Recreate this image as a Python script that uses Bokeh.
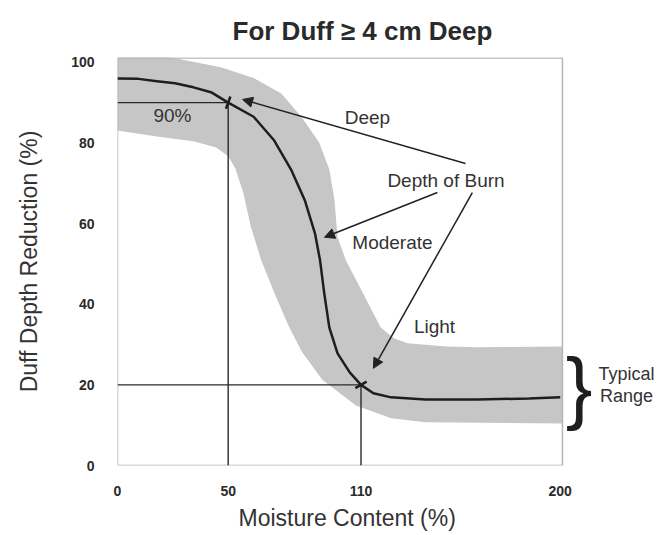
from bokeh.plotting import figure
from bokeh.models import Range1d, FixedTicker, Arrow, NormalHead, Label, Title
from bokeh.embed import file_html
from bokeh.resources import INLINE
import math

# ---- data ----
moisture = [0, 9.5, 17.8, 26, 34.3, 42.6, 50, 61.5, 70.8, 78.6, 84.6, 89.2, 91.5, 93.4,
            95.7, 99.4, 104.9, 110, 115.6, 123.6, 139.1, 162.5, 185.9, 200]
reduction = [96, 95.9, 95.3, 94.8, 93.8, 92.5, 90, 86.5, 80.6, 73.2, 65.8, 57.6, 50.9, 42.7,
             34.2, 27.8, 23.1, 20, 17.9, 16.9, 16.4, 16.4, 16.6, 16.9]

band_upper_x = [0, 26, 46.7, 61.5, 74, 83.2, 91.1, 95.7, 98, 99.4, 103.1, 110.9, 118.9, 125,
                131.1, 148.5, 162.5, 201]
band_upper_y = [103, 101, 98.8, 96.1, 92.3, 86.4, 80.1, 73.4, 66, 56.6, 51, 42.7, 34.2, 31.5,
                30.3, 29.5, 29.3, 29.5]
band_lower_x = [0, 17.8, 34.3, 44.6, 50, 53.2, 56.9, 60.2, 64.8, 70.8, 77.2, 83.2, 92.5, 107.7,
                123.6, 139.1, 201]
band_lower_y = [83.1, 81.6, 80.4, 78.9, 76.7, 73.7, 67.5, 59.3, 51.1, 42.9, 34.7, 28.3, 21.3, 14.9,
                11.7, 10.7, 10.4]

target_moisture = [50, 110]
target_reduction = [90, 20]

x_ticks = [0, 50, 110, 200]
y_ticks = [0, 20, 40, 60, 80, 100]

X_MAX = 201      # end of the plotted moisture axis (box edge)
Y_MAX = 101.2

FONT = "Liberation Sans"
DARK = "#2a2a2a"
TXT = "#333333"

p = figure(width=669, height=535, output_backend="svg", toolbar_location=None,
           x_range=Range1d(0, 247.1), y_range=Range1d(0, Y_MAX),
           min_border_left=117, min_border_right=5, min_border_top=57, min_border_bottom=70,
           title="For Duff \u2265 4 cm Deep")

p.title.text_font = FONT
p.title.text_font_size = "26px"
p.title.text_font_style = "bold"
p.title.text_color = DARK
p.title.align = "left"
p.title.offset = 115
p.title.standoff = 23

p.xgrid.visible = False
p.ygrid.visible = False
p.outline_line_color = None
p.background_fill_color = "white"
p.border_fill_color = "white"

for ax in (p.xaxis[0], p.yaxis[0]):
    ax.axis_line_color = None
    ax.major_tick_line_color = None
    ax.minor_tick_line_color = None
    ax.major_label_text_font = FONT
    ax.major_label_text_font_style = "bold"
    ax.major_label_text_font_size = "14px"
    ax.major_label_text_color = DARK
    ax.axis_label_text_font = FONT
    ax.axis_label_text_font_style = "normal"
    ax.axis_label_text_font_size = "23px"
    ax.axis_label_text_color = TXT

p.xaxis.ticker = FixedTicker(ticks=x_ticks)
p.yaxis.ticker = FixedTicker(ticks=y_ticks)
p.yaxis.axis_label = "Duff Depth Reduction (%)"
p.xaxis.major_label_standoff = 14
p.yaxis.major_label_standoff = 17
p.yaxis.axis_label_standoff = 26

# x axis title, aligned under the plot box
p.add_layout(Title(text="Moisture Content (%)", align="left", offset=121,
                   text_font=FONT, text_font_size="23px", text_font_style="normal",
                   text_color=TXT, standoff=8), "below")

# typical range band
band_xs = band_upper_x + band_lower_x[::-1]
band_ys = band_upper_y + band_lower_y[::-1]
p.patch(band_xs, band_ys, fill_color="#c6c6c6", line_color=None)

# plot box
p.quad(left=0, right=X_MAX, bottom=0, top=Y_MAX - 0.1, fill_color=None,
       line_color="#b5b5b5", line_width=1.5)

# guide lines
for tx, ty in zip(target_moisture, target_reduction):
    p.line([0, tx], [ty, ty], line_color=DARK, line_width=1.4)
    p.line([tx, tx], [0, ty], line_color=DARK, line_width=1.4)

# main curve
p.line(moisture, reduction, line_color="#1e1e1e", line_width=2.5, line_join="round")

# small marks at intersections
p.scatter(target_moisture, target_reduction, marker="dash", size=13,
          angle=[math.radians(70), math.radians(30)], line_color="#1e1e1e", line_width=2.5)

# annotations
def txt(x, y, s, size="19px"):
    p.add_layout(Label(x=x, y=y, text=s, text_font=FONT, text_font_size=size,
                       text_color=TXT, text_align="center", text_baseline="middle"))

txt(24.8, 86.8, "90%")
txt(112.9, 86.4, "Deep")
txt(148.4, 70.8, "Depth of Burn")
txt(124.2, 55.4, "Moderate")
txt(143.2, 34.5, "Light")
txt(229.9, 22.8, "Typical", "18px")
txt(229.9, 17.2, "Range", "18px")
p.add_layout(Label(x=208.5, y=19.6, text="}", text_font=FONT, text_font_size="80px",
                   text_color="#1e1e1e", text_align="center", text_baseline="middle"))

arrows = [((157.2, 74.9), (56.5, 90.8)),
          ((144.5, 67.7), (93.5, 56.6)),
          ((160.3, 67.7), (115.6, 24.1))]
for (x0, y0), (x1, y1) in arrows:
    p.add_layout(Arrow(x_start=x0, y_start=y0, x_end=x1, y_end=y1,
                       line_color="#222222", line_width=1.5,
                       end=NormalHead(size=10, fill_color="#222222", line_color="#222222")))

open("out.html", "w").write(file_html(p, INLINE))
